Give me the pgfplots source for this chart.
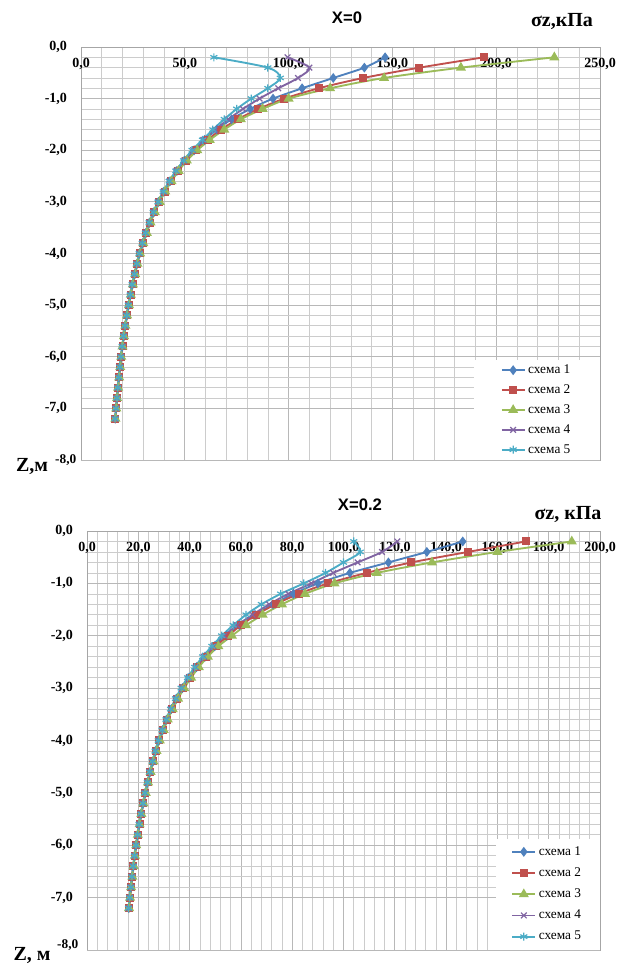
\documentclass[border=0pt]{standalone}
\usepackage{pgfplots}
\pgfplotsset{compat=1.18}
\usepackage{pgfplotstable}
\usepackage{fontspec}
\setmainfont{Liberation Serif}
\newfontfamily\sansf{Liberation Sans}
\definecolor{cA}{HTML}{4F81BD}
\definecolor{cB}{HTML}{C0504D}
\definecolor{cC}{HTML}{9BBB59}
\definecolor{cD}{HTML}{8064A2}
\definecolor{cE}{HTML}{4BACC6}

\pgfplotstableread{
z s1 s2 s3 s4 s5
-0.2 146.5 194.0 228.0 99.5 64.0
-0.4 136.5 163.0 183.0 110.0 90.0
-0.6 121.5 136.0 146.0 104.5 96.0
-0.8 106.5 114.5 120.0 95.0 90.0
-1.0 92.5 98.0 100.0 86.0 82.0
-1.2 81.5 85.5 87.5 78.0 75.0
-1.4 72.5 75.5 77.0 71.0 69.0
-1.6 65.5 67.5 69.0 64.5 63.5
-1.8 59.5 61.0 62.0 59.0 58.5
-2.0 54.5 55.5 56.0 54.0 53.5
-2.2 50.0 50.6 51.0 49.7 49.4
-2.4 46.2 46.7 47.0 46.0 45.7
-2.6 42.9 43.3 43.6 42.7 42.5
-2.8 40.0 40.3 40.6 39.8 39.6
-3.0 37.4 37.7 37.9 37.2 37.1
-3.2 35.1 35.4 35.6 35.0 34.8
-3.4 33.1 33.3 33.5 33.0 32.8
-3.6 31.3 31.5 31.7 31.2 31.0
-3.8 29.7 29.9 30.0 29.6 29.5
-4.0 28.2 28.4 28.5 28.1 28.0
-4.2 27.0 27.1 27.2 26.9 26.8
-4.4 25.9 26.0 26.1 25.8 25.7
-4.6 24.8 24.9 25.0 24.7 24.6
-4.8 23.8 23.9 24.0 23.7 23.7
-5.0 22.9 23.0 23.1 22.8 22.8
-5.2 22.1 22.2 22.2 22.0 22.0
-5.4 21.3 21.4 21.4 21.2 21.2
-5.6 20.6 20.7 20.7 20.5 20.5
-5.8 19.9 20.0 20.0 19.9 19.8
-6.0 19.3 19.4 19.4 19.3 19.2
-6.2 18.8 18.8 18.9 18.7 18.7
-6.4 18.3 18.3 18.4 18.2 18.2
-6.6 17.8 17.8 17.9 17.7 17.7
-6.8 17.3 17.4 17.4 17.3 17.3
-7.0 16.9 17.0 17.0 16.9 16.8
-7.2 16.5 16.6 16.6 16.5 16.4
}\tabA

\pgfplotstableread{
z s1 s2 s3 s4 s5
-0.2 146.5 171.0 189.0 121.0 104.0
-0.4 132.5 148.5 160.0 115.0 106.5
-0.6 117.5 126.5 134.5 105.5 100.0
-0.8 102.5 109.0 113.0 96.0 93.0
-1.0 90.0 94.0 96.5 87.5 84.5
-1.2 80.5 82.5 85.0 78.5 75.5
-1.4 72.5 73.5 76.0 71.0 68.0
-1.6 65.5 66.0 68.5 64.5 62.0
-1.8 59.5 60.0 62.0 58.5 57.0
-2.0 54.5 55.0 56.5 53.5 52.5
-2.2 49.8 50.3 51.2 49.3 48.7
-2.4 46.0 46.4 47.1 45.6 45.1
-2.6 42.7 43.0 43.6 42.4 42.0
-2.8 39.8 40.1 40.6 39.6 39.2
-3.0 37.2 37.5 37.9 37.0 36.7
-3.2 34.9 35.2 35.5 34.8 34.5
-3.4 32.9 33.1 33.4 32.8 32.6
-3.6 31.1 31.3 31.5 31.0 30.8
-3.8 29.5 29.7 29.9 29.4 29.3
-4.0 28.0 28.2 28.4 28.0 27.8
-4.2 26.8 26.9 27.1 26.7 26.6
-4.4 25.7 25.8 25.9 25.6 25.5
-4.6 24.6 24.7 24.8 24.5 24.5
-4.8 23.6 23.7 23.8 23.6 23.5
-5.0 22.7 22.8 22.9 22.7 22.6
-5.2 21.9 22.0 22.0 21.9 21.8
-5.4 21.1 21.2 21.2 21.1 21.0
-5.6 20.4 20.5 20.5 20.4 20.3
-5.8 19.7 19.8 19.8 19.7 19.7
-6.0 19.1 19.2 19.2 19.1 19.1
-6.2 18.6 18.6 18.7 18.5 18.5
-6.4 18.1 18.1 18.2 18.0 18.0
-6.6 17.6 17.6 17.7 17.5 17.5
-6.8 17.1 17.2 17.2 17.1 17.1
-7.0 16.7 16.8 16.8 16.7 16.6
-7.2 16.3 16.4 16.4 16.3 16.2
}\tabB

\pgfplotsset{
  myaxis/.style={
    scale only axis,
    ymin=-8, ymax=0,
    ytick={-7,-6,...,0},
    extra y ticks={-8},
    minor x tick num=4,
    minor y tick num=4,
    grid=both,
    major grid style={draw=black!28, line width=0.6pt},
    minor grid style={draw=black!20, line width=0.5pt},
    axis line style={draw=black!35, line width=0.6pt},
    major tick length=0pt, minor tick length=0pt,
    /pgf/number format/assume math mode=true,
    /pgf/number format/.cd, fixed, fixed zerofill, precision=1, use comma, /pgfplots/.cd,
    tick label style={font=\fontsize{10.5}{12}\selectfont\bfseries},
    xticklabel pos=upper,
    xticklabel style={anchor=north, yshift=-5pt},
    yticklabel style={xshift=-7pt},
    legend cell align=left,
    legend style={draw=none, fill=white, at={(1,0)}, anchor=south east,
      font=\fontsize{10}{11}\selectfont},
  },
  sA/.style={cA, line width=1.4pt, smooth, mark=diamond*, mark size=2.6pt, mark options={solid, fill=cA}},
  sB/.style={cB, line width=1.4pt, smooth, mark=square*, mark size=2.3pt, mark options={solid, fill=cB}},
  sC/.style={cC, line width=1.4pt, smooth, mark=triangle*, mark size=3pt, mark options={solid, fill=cC}},
  sD/.style={cD, line width=1.4pt, smooth, mark=x, mark size=3pt, mark options={solid, line width=0.9pt}},
  sE/.style={cE, line width=1.4pt, smooth, mark=asterisk, mark size=3pt, mark options={solid, line width=0.9pt}},
}

\begin{document}
\begin{tikzpicture}
\useasboundingbox (0,0) rectangle (464.25pt,723.75pt);

\begin{axis}[myaxis, at={(60.75pt,688.5pt)}, anchor=north west,
  width=389.25pt, height=309.75pt,
  xmin=0, xmax=250, xtick={0,50,...,250},
  extra y tick style={yticklabel style={xshift=7pt, font=\fontsize{10}{11}\selectfont\bfseries}},
  legend style={row sep=2.8pt, inner xsep=20pt, inner ysep=1.5pt}]
\addplot[sA] table[x=s1,y=z]{\tabA};
\addplot[sB] table[x=s2,y=z]{\tabA};
\addplot[sC] table[x=s3,y=z]{\tabA};
\addplot[sD] table[x=s4,y=z]{\tabA};
\addplot[sE] table[x=s5,y=z]{\tabA};
\legend{схема 1, схема 2, схема 3, схема 4, схема 5}
\end{axis}

\begin{axis}[myaxis, at={(65.25pt,325.5pt)}, anchor=north west,
  width=384.75pt, height=314.25pt,
  xmin=0, xmax=200, xtick={0,20,...,200},
  extra y tick style={yticklabel style={xshift=4pt, yshift=4pt, font=\fontsize{10}{11}\selectfont\bfseries}},
  legend style={row sep=3.8pt, inner xsep=12pt, inner ysep=3.8pt}]
\addplot[sA] table[x=s1,y=z]{\tabB};
\addplot[sB] table[x=s2,y=z]{\tabB};
\addplot[sC] table[x=s3,y=z]{\tabB};
\addplot[sD] table[x=s4,y=z]{\tabB};
\addplot[sE] table[x=s5,y=z]{\tabB};
\legend{схема 1, схема 2, схема 3, схема 4, схема 5}
\end{axis}

\node[font=\sansf\bfseries\fontsize{12.5}{14}\selectfont] at (260.25pt,710.25pt) {X=0};
\node[font=\bfseries\fontsize{15}{17}\selectfont] at (421.5pt,707.25pt) {σz,кПа};
\node[font=\bfseries\fontsize{15}{17}\selectfont] at (24pt,373.5pt) {Z,м};

\node[font=\sansf\bfseries\fontsize{12.5}{14}\selectfont] at (270pt,345pt) {X=0.2};
\node[font=\bfseries\fontsize{15}{17}\selectfont] at (426pt,337.5pt) {σz, кПа};
\node[font=\bfseries\fontsize{15}{17}\selectfont] at (24pt,7.5pt) {Z, м};
\end{tikzpicture}
\end{document}
